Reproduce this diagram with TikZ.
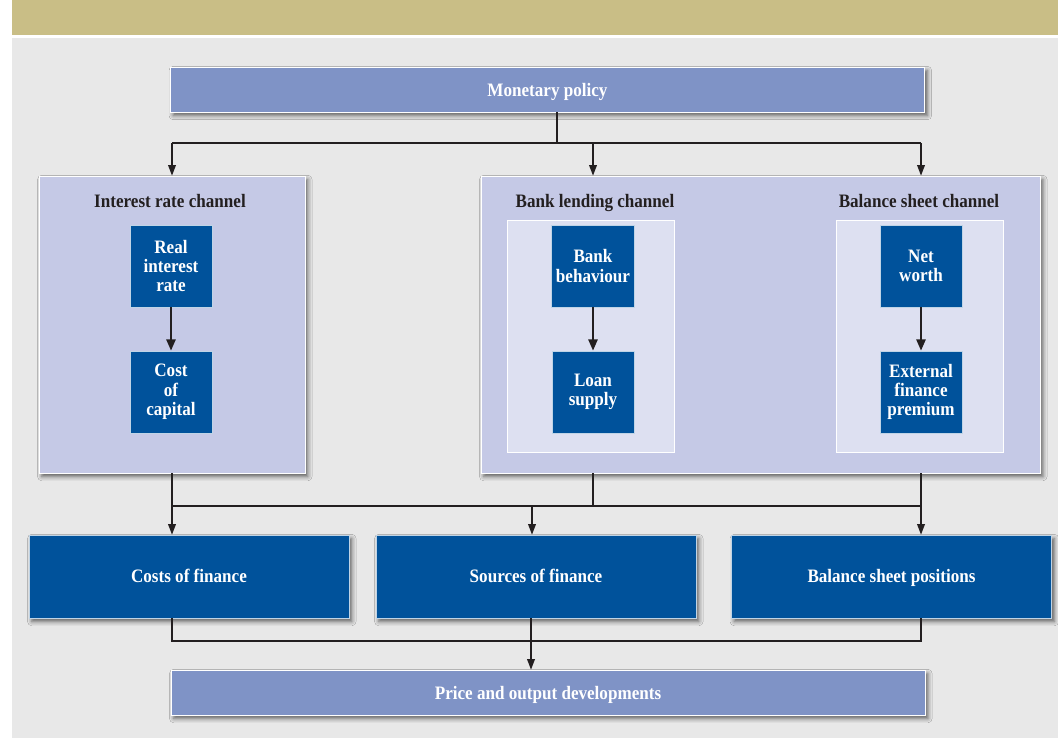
\documentclass[tikz,border=0pt]{standalone}
\usepackage{fontspec}
\setmainfont{Liberation Serif}[FakeStretch=0.9]
\usepackage{tikz}
\usetikzlibrary{arrows.meta, shadows.blur}

\definecolor{khaki}{HTML}{C9BE86}
\definecolor{greybg}{HTML}{E8E8E8}
\definecolor{barblue}{HTML}{7F93C6}
\definecolor{chanblue}{HTML}{C5C9E6}
\definecolor{innerblue}{HTML}{DDE0F1}
\definecolor{darkblue}{HTML}{00529B}
\definecolor{inkblack}{HTML}{231F20}

\begin{document}
\begin{tikzpicture}[x=0.025cm, y=-0.025cm, font=\fontsize{13.5}{13.8}\selectfont\bfseries]
\tikzstyle{shade} = [blur shadow={shadow xshift=2pt, shadow yshift=-2.5pt, shadow blur radius=3pt, shadow opacity=60}]
\tikzstyle{bar} = [rectangle, minimum width=18.85cm, minimum height=1.125cm, text height=10.8pt, text depth=0.4pt, text centered, draw=white, line width=0.5pt, fill=barblue, text=white, shade]
\tikzstyle{channel} = [rectangle, minimum height=7.425cm, draw=white, line width=0.5pt, fill=chanblue, shade]
\tikzstyle{inner} = [rectangle, minimum width=4.175cm, minimum height=5.8cm, draw=white, line width=0.5pt, fill=innerblue]
\tikzstyle{step box} = [rectangle, minimum width=2.05cm, minimum height=2.05cm, align=center, draw=white!75!darkblue, line width=0.5pt, fill=darkblue, text=white]
\tikzstyle{effect} = [rectangle, minimum width=8cm, minimum height=2.075cm, text height=9.8pt, text depth=1pt, text centered, draw=white!75!darkblue, line width=0.5pt, fill=darkblue, text=white, shade]
\tikzstyle{title} = [text=inkblack, anchor=base]
\tikzstyle{line} = [inkblack, line width=0.9pt]
\tikzstyle{arrow} = [inkblack, line width=0.9pt, -{Triangle[length=7.5pt, width=5.5pt]}]
\tikzstyle{inarrow} = [inkblack, line width=1.5pt, -{Triangle[length=8pt, width=6.5pt]}]

% page and header band
\useasboundingbox (0,0) rectangle (1058,738);
\fill [white] (0,0) rectangle (1058,738);
\fill [khaki] (12,0) rectangle (1058,35);
\fill [greybg] (12,37.5) rectangle (1058,738);

\node (mp) [bar] at (547.5,89.5) {Monetary policy};

% channels
\node (irc) [channel, minimum width=6.65cm] at (172,324.5) {};
\node (rbox) [channel, minimum width=13.975cm] at (760.5,324.5) {};
\node (blin) [inner] at (590.5,336) {};
\node (bsin) [inner] at (919.5,336) {};

\node (irtitle) [title] at (170,207.7) {Interest rate channel};
\node (bltitle) [title] at (595,207.7) {Bank lending channel};
\node (bstitle) [title] at (919,207.7) {Balance sheet channel};

\node (rir) [step box] at (171,266) {Real\\interest\\rate};
\node (coc) [step box] at (171,392) {Cost\\of\\capital};
\node (bb) [step box] at (593,266) {Bank\\behaviour};
\node (ls) [step box] at (593,392) {Loan\\supply};
\node (nw) [step box] at (921,266) {Net\\worth};
\node (efp) [step box] at (921,392) {External\\finance\\premium};

\draw [inarrow] (rir) -- (coc);
\draw [inarrow] (bb) -- (ls);
\draw [inarrow] (nw) -- (efp);

% effects
\node (cof) [effect] at (189,576.5) {Costs of finance};
\node (sof) [effect] at (536,576.5) {Sources of finance};
\node (bsp) [effect] at (891.5,576.5) {Balance sheet positions};

\node (pod) [bar] at (548,692.5) {Price and output developments};

% monetary policy to channels
\coordinate (split) at (557,143);
\draw [line] (mp.south -| split) -- (split);
\draw [line] (split -| irc) -- (split -| nw);
\draw [arrow] (split -| irc) -- (irc.north);
\draw [arrow] (split -| bb) -- (bb |- rbox.north);
\draw [arrow] (split -| nw) -- (nw |- rbox.north);

% channels to effects
\coordinate (join) at (532,506);
\draw [arrow] (irc.south) -- (irc.south |- cof.north);
\draw [line] (bb |- rbox.south) -- (bb |- join);
\draw [line] (irc.south |- join) -- (nw |- join);
\draw [arrow] (nw |- rbox.south) -- (nw |- bsp.north);
\draw [arrow] (join) -- (join |- sof.north);

% effects to prices
\coordinate (collect) at (531,641);
\draw [line] (cof.south -| irc) -- (collect -| irc) -- (collect -| nw) -- (bsp.south -| nw);
\draw [arrow] (sof.south -| collect) -- (pod.north -| collect);
\end{tikzpicture}
\end{document}
